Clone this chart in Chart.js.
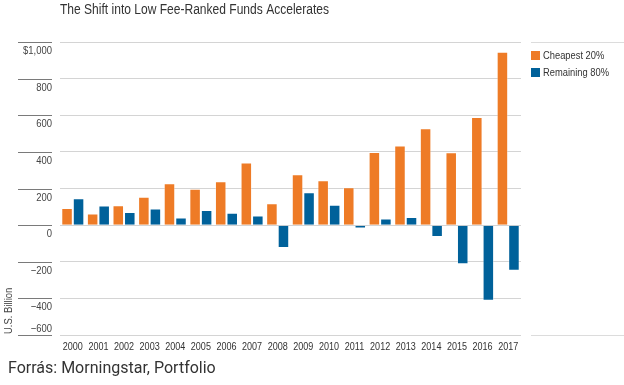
<!DOCTYPE html>
<html>
<head>
<meta charset="utf-8">
<script src="https://cdn.jsdelivr.net/npm/chart.js@4.4.0/dist/chart.umd.min.js"></script>
<style>
html,body{margin:0;padding:0;background:#fff;}
#wrap{width:624px;height:385px;position:relative;}
</style>
</head>
<body>
<div id="wrap"><canvas id="c" width="624" height="385"></canvas></div>
<script>
// ---- data ----
const years = ['2000','2001','2002','2003','2004','2005','2006','2007','2008','2009','2010','2011','2012','2013','2014','2015','2016','2017'];
const cheapest20 = [93, 64, 109, 155, 229, 198, 240, 342, 120, 278, 245, 207, 400, 435, 529, 398, 591, 947];
const remaining80 = [147, 107, 71, 91, 42, 82, 67, 53, -125, 180, 111, -18, 36, 44, -65, -213, -413, -249];
const seriesNames = ['Cheapest 20%', 'Remaining 80%'];
const yTickValues = [-600, -400, -200, 0, 200, 400, 600, 800, 1000];
const titleText = 'The Shift into Low Fee-Ranked Funds Accelerates';
const sourceText = 'Forrás: Morningstar, Portfolio';
const yUnitText = 'U.S. Billion';

// ---- styles ----
const BASEFONT = "'Liberation Sans', Arial, sans-serif";
const ORANGE = '#EE7B26';
const BLUE = '#00619A';

function fmtY(v, isMax) {
  const s = Math.abs(v).toLocaleString('en-US');
  if (isMax) return '$' + s;
  return (v < 0 ? '\u2212' : '') + s;
}

// condensed text: regular face compressed horizontally
function narrowText(ctx, text, x, y, align, size, color, sx) {
  ctx.save();
  ctx.font = size + 'px ' + BASEFONT;
  ctx.fillStyle = color;
  ctx.textAlign = align;
  ctx.textBaseline = 'middle';
  ctx.translate(x, y);
  ctx.scale(sx || 0.84, 1);
  ctx.fillText(text, 0, 0);
  ctx.restore();
}

const decor = {
  id: 'decor',
  afterDraw(chart) {
    const ctx = chart.ctx;
    const ca = chart.chartArea;
    const y = chart.scales.y;
    const x = chart.scales.x;
    ctx.save();
    // title
    narrowText(ctx, titleText, ca.left, 10.5, 'left', 14, '#333', 0.86);
    // left tick segments and labels
    const maxV = Math.max(...y.ticks.map(t => t.value));
    const minV = Math.min(...y.ticks.map(t => t.value));
    y.ticks.forEach(t => {
      const py = Math.round(y.getPixelForValue(t.value)) + 0.5;
      ctx.strokeStyle = '#7a7a7a';
      ctx.lineWidth = 1;
      ctx.beginPath();
      ctx.moveTo(18, py);
      ctx.lineTo(ca.left - 8, py);
      ctx.stroke();
      const ly = t.value === minV ? py - 7 : py + 8.5;
      narrowText(ctx, fmtY(t.value, t.value === maxV), ca.left - 8, ly, 'right', 11, '#444', 0.86);
    });
    // x category labels
    chart.data.labels.forEach((lab, i) => {
      narrowText(ctx, lab, x.getPixelForValue(i), ca.bottom + 12, 'center', 11, '#333', 0.82);
    });
    // unit label (rotated)
    ctx.save();
    ctx.translate(9, ca.bottom - 1);
    ctx.rotate(-Math.PI / 2);
    narrowText(ctx, yUnitText, 0, 0, 'left', 11, '#444', 0.86);
    ctx.restore();
    // legend column lines
    const lx = ca.right + 10;
    ctx.strokeStyle = '#dcdcdc';
    ctx.lineWidth = 1;
    [ca.top, ca.bottom].forEach(v => {
      const py = Math.round(v) + 0.5;
      ctx.beginPath();
      ctx.moveTo(lx, py);
      ctx.lineTo(chart.width, py);
      ctx.stroke();
    });
    // legend items
    chart.data.datasets.forEach((ds, i) => {
      const top = ca.top + 9 + i * 17;
      ctx.fillStyle = ds.backgroundColor;
      ctx.fillRect(lx, top, 9, 9);
      narrowText(ctx, ds.label, lx + 12, top + 4.5, 'left', 11, '#333', 0.85);
    });
    ctx.restore();
  }
};

new Chart(document.getElementById('c').getContext('2d'), {
  type: 'bar',
  data: {
    labels: years,
    datasets: [
      { label: seriesNames[0], data: cheapest20, backgroundColor: ORANGE, borderColor: 'rgba(255,255,255,0.35)', borderWidth: 1, categoryPercentage: 0.9, barPercentage: 1.0 },
      { label: seriesNames[1], data: remaining80, backgroundColor: BLUE, borderColor: 'rgba(255,255,255,0.35)', borderWidth: 1, categoryPercentage: 0.9, barPercentage: 1.0 }
    ]
  },
  options: {
    responsive: false,
    animation: false,
    devicePixelRatio: 1,
    layout: { padding: { left: 8, right: 103, top: 42, bottom: 0 } },
    plugins: {
      legend: { display: false },
      tooltip: { enabled: false },
      title: { display: false },
      subtitle: {
        display: true, text: sourceText, position: 'bottom', align: 'start', fullSize: true,
        color: '#333', font: { family: 'Roboto', size: 16, weight: 'normal', lineHeight: 1.2 },
        padding: { top: 3, bottom: 6 }
      }
    },
    scales: {
      x: {
        grid: { display: false },
        border: { display: false },
        ticks: { display: false },
        afterFit(s) { s.height = 385 - 335 - (16 * 1.2 + 3 + 6); }
      },
      y: {
        min: yTickValues[0],
        max: yTickValues[yTickValues.length - 1],
        afterBuildTicks(s) { s.ticks = yTickValues.map(v => ({ value: v })); },
        ticks: { display: false },
        grid: { color: '#d4d4d4', drawTicks: false, lineWidth: 1 },
        border: { display: false },
        afterFit(s) { s.width = 52; }
      }
    }
  },
  plugins: [decor]
});
</script>
</body>
</html>
